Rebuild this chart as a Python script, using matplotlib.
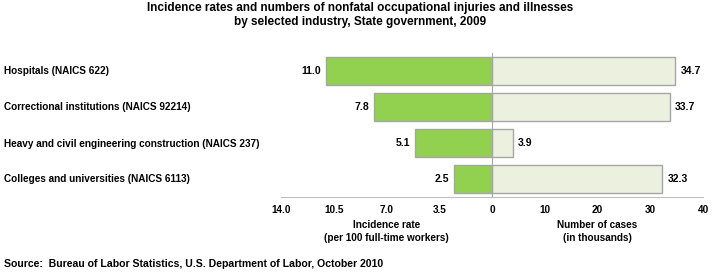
import matplotlib.pyplot as plt

plt.rcParams['font.family'] = ['Liberation Sans', 'DejaVu Sans']

industries = ['Hospitals (NAICS 622)',
              'Correctional institutions (NAICS 92214)',
              'Heavy and civil engineering construction (NAICS 237)',
              'Colleges and universities (NAICS 6113)']
rates = [11.0, 7.8, 5.1, 2.5]
cases = [34.7, 33.7, 3.9, 32.3]

rate_ticks = [14.0, 10.5, 7.0, 3.5, 0]
rate_tick_labels = ['14.0', '10.5', '7.0', '3.5', '']
case_ticks = [0, 10, 20, 30, 40]
case_tick_labels = ['0', '10', '20', '30', '40']

green = '#92D050'
beige = '#EBF1DE'
edge = '#A6A6A6'
axis_gray = '#BFBFBF'
fs = 7.2

fig = plt.figure(figsize=(7.2, 2.74), dpi=100)
y0, y1 = 77 / 274, 221 / 274
ax_l = fig.add_axes([281 / 720, y0, 211 / 720, y1 - y0])
ax_r = fig.add_axes([492 / 720, y0, 211 / 720, y1 - y0])

ypos = list(range(len(industries)))

ax_l.barh(ypos, rates, height=0.8, color=green, edgecolor=edge, linewidth=1)
ax_r.barh(ypos, cases, height=0.8, color=beige, edgecolor=edge, linewidth=1)

for ax in (ax_l, ax_r):
    ax.set_ylim(3.5, -0.5)
    ax.set_yticks([])
    for s in ('top', 'left', 'right'):
        ax.spines[s].set_visible(False)
    ax.spines['bottom'].set_color(axis_gray)
    ax.tick_params(axis='x', length=0, pad=6, labelsize=fs)

ax_l.set_xlim(14, 0)
ax_l.set_xticks(rate_ticks)
ax_l.set_xticklabels(rate_tick_labels, fontweight='bold')
ax_r.set_xlim(0, 40)
ax_r.set_xticks(case_ticks)
ax_r.set_xticklabels(case_tick_labels, fontweight='bold')

# zero line between the two halves
ax_r.spines['left'].set_visible(True)
ax_r.spines['left'].set_color(edge)

for i, v in enumerate(rates):
    ax_l.text(v + 0.35, i, f'{v:.1f}', ha='right', va='center',
              fontsize=7.5, fontweight='bold')
for i, v in enumerate(cases):
    ax_r.text(v + 1.0, i, f'{v:.1f}', ha='left', va='center',
              fontsize=7.5, fontweight='bold')

for i, name in enumerate(industries):
    fig.text(4 / 720, 1 - (71.5 + 36 * i) / 274, name, ha='left', va='center',
             fontsize=fs, fontweight='bold')

ax_l.set_xlabel('Incidence rate\n(per 100 full-time workers)', fontsize=fs,
                fontweight='bold', labelpad=3, linespacing=1.45)
ax_r.set_xlabel('Number of cases\n(in thousands)', fontsize=fs,
                fontweight='bold', labelpad=3, linespacing=1.45)

fig.text(0.5, 1 - 15 / 274,
         'Incidence rates and numbers of nonfatal occupational injuries and illnesses\n'
         'by selected industry, State government, 2009',
         ha='center', va='center', fontsize=8.5, fontweight='bold', linespacing=1.15)

fig.text(4 / 720, 1 - 264 / 274,
         'Source:  Bureau of Labor Statistics, U.S. Department of Labor, October 2010',
         ha='left', va='center', fontsize=7.6, fontweight='bold')

fig.savefig('out.png', dpi=100)
